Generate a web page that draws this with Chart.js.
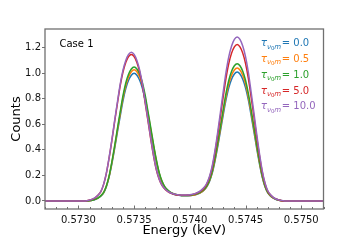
<!DOCTYPE html>
<html lang="en">
<head>
  <meta charset="UTF-8">
  <title>Case 1 – Counts vs Energy</title>
  <script src="https://cdn.jsdelivr.net/npm/chart.js"></script>
  <style>
    html, body {
      margin: 0;
      padding: 0;
      background: #fff;
    }
    #wrap {
      width: 360px;
      height: 240px;
    }
  </style>
</head>
<body>
  <div id="wrap"><canvas id="myChart" width="360" height="240"></canvas></div>

  <script>
    // energy grid (keV)
    const energy = [
      0.5727, 0.5729,
      0.573000, 0.573025, 0.573050, 0.573075, 0.573100, 0.573125, 0.573150, 0.573175,
      0.573200, 0.573225, 0.573250, 0.573275, 0.573300, 0.573325, 0.573350, 0.573375,
      0.573400, 0.573425, 0.573450, 0.573475, 0.573500, 0.573525, 0.573550, 0.573575,
      0.573600, 0.573625, 0.573650, 0.573675, 0.573700, 0.573725, 0.573750, 0.573775,
      0.573800, 0.573825, 0.573850, 0.573875, 0.573900, 0.573925, 0.573950, 0.573975,
      0.574000, 0.574025, 0.574050, 0.574075, 0.574100, 0.574125, 0.574150, 0.574175,
      0.574200, 0.574225, 0.574250, 0.574275, 0.574300, 0.574325, 0.574350, 0.574375,
      0.574400, 0.574425, 0.574450, 0.574475, 0.574500, 0.574525, 0.574550, 0.574575,
      0.574600, 0.574625, 0.574650, 0.574675, 0.574700, 0.574725, 0.574750, 0.574775,
      0.574800, 0.574825, 0.574850, 0.574875, 0.574900,
      0.5750, 0.5752
    ];

    // counts, one array per tau value
    const tau0 = [
      0, 0, 0, 0, 0, 0,
      0.002, 0.006, 0.012, 0.022, 0.038, 0.062, 0.11, 0.185,
      0.29, 0.41, 0.54, 0.665, 0.785, 0.88, 0.945, 0.985,
      1.0, 0.985, 0.945, 0.88, 0.785, 0.665, 0.544, 0.42,
      0.306, 0.212, 0.148, 0.107, 0.082, 0.066, 0.055, 0.048,
      0.044, 0.041, 0.04, 0.04, 0.041, 0.044, 0.048, 0.055,
      0.067, 0.083, 0.108, 0.149, 0.214, 0.309, 0.424, 0.549,
      0.675, 0.793, 0.889, 0.954, 0.995, 1.01, 0.995, 0.954,
      0.889, 0.793, 0.672, 0.545, 0.414, 0.293, 0.187, 0.111,
      0.063, 0.038, 0.022, 0.012, 0.006, 0.002, 0, 0,
      0, 0, 0
    ];
    const tau05 = [
      0, 0, 0, 0, 0, 0,
      0.002, 0.006, 0.012, 0.023, 0.039, 0.064, 0.113, 0.19,
      0.298, 0.421, 0.555, 0.683, 0.806, 0.904, 0.971, 1.012,
      1.027, 1.012, 0.971, 0.904, 0.806, 0.683, 0.559, 0.431,
      0.314, 0.218, 0.152, 0.11, 0.084, 0.067, 0.057, 0.05,
      0.046, 0.043, 0.042, 0.042, 0.042, 0.045, 0.049, 0.057,
      0.068, 0.085, 0.111, 0.154, 0.221, 0.319, 0.437, 0.567,
      0.696, 0.818, 0.917, 0.985, 1.026, 1.042, 1.026, 0.985,
      0.917, 0.818, 0.693, 0.563, 0.427, 0.302, 0.193, 0.115,
      0.065, 0.04, 0.023, 0.013, 0.006, 0.002, 0, 0,
      0, 0, 0
    ];
    const tau1 = [
      0, 0, 0, 0, 0, 0,
      0.002, 0.006, 0.013, 0.023, 0.04, 0.065, 0.116, 0.194,
      0.305, 0.431, 0.567, 0.698, 0.824, 0.924, 0.992, 1.034,
      1.05, 1.034, 0.992, 0.924, 0.824, 0.698, 0.571, 0.441,
      0.321, 0.223, 0.156, 0.113, 0.087, 0.07, 0.058, 0.051,
      0.046, 0.043, 0.042, 0.043, 0.044, 0.047, 0.052, 0.059,
      0.071, 0.088, 0.114, 0.159, 0.227, 0.329, 0.451, 0.585,
      0.718, 0.844, 0.946, 1.016, 1.059, 1.075, 1.059, 1.016,
      0.946, 0.844, 0.715, 0.581, 0.441, 0.312, 0.199, 0.118,
      0.067, 0.041, 0.024, 0.013, 0.006, 0.002, 0, 0,
      0, 0, 0
    ];
    const tau5 = [
      0, 0, 0, 0, 0,
      0.002, 0.007, 0.014, 0.025, 0.044, 0.071, 0.126, 0.212,
      0.333, 0.471, 0.62, 0.763, 0.901, 1.01, 1.085, 1.131,
      1.148, 1.131, 1.085, 1.01, 0.901, 0.763, 0.624, 0.481,
      0.35, 0.242, 0.17, 0.123, 0.094, 0.075, 0.062, 0.055,
      0.049, 0.046, 0.045, 0.045, 0.046, 0.046, 0.051, 0.057,
      0.066, 0.078, 0.098, 0.129, 0.18, 0.258, 0.374, 0.513,
      0.665, 0.817, 0.962, 1.078, 1.158, 1.207, 1.225, 1.207,
      1.158, 1.078, 0.962, 0.815, 0.662, 0.502, 0.355, 0.227,
      0.135, 0.076, 0.047, 0.027, 0.015, 0.007, 0.002, 0,
      0, 0, 0, 0
    ];
    const tau10 = [
      0, 0, 0, 0, 0,
      0.002, 0.007, 0.014, 0.026, 0.044, 0.072, 0.128, 0.216,
      0.338, 0.478, 0.629, 0.775, 0.915, 1.025, 1.101, 1.148,
      1.165, 1.148, 1.101, 1.025, 0.915, 0.775, 0.633, 0.488,
      0.356, 0.247, 0.172, 0.124, 0.096, 0.077, 0.064, 0.056,
      0.051, 0.047, 0.046, 0.046, 0.047, 0.048, 0.052, 0.059,
      0.068, 0.083, 0.103, 0.135, 0.188, 0.27, 0.392, 0.538,
      0.697, 0.857, 1.009, 1.131, 1.214, 1.266, 1.285, 1.266,
      1.214, 1.131, 1.009, 0.855, 0.694, 0.527, 0.373, 0.238,
      0.141, 0.08, 0.049, 0.028, 0.015, 0.008, 0.003, 0,
      0, 0, 0, 0
    ];

    const tauLabels = ['0.0', '0.5', '1.0', '5.0', '10.0'];
    const series = [tau0, tau05, tau1, tau5, tau10];
    const colors = ['#1f77b4', '#ff7f0e', '#2ca02c', '#d62728', '#9467bd'];

    const xTicks = [0.5730, 0.5735, 0.5740, 0.5745, 0.5750];
    const xMinorStep = 0.0001;
    const yTicks = [0.0, 0.2, 0.4, 0.6, 0.8, 1.0, 1.2];

    const FONT = '"DejaVu Sans", sans-serif';
    const AXIS = '#707070';

    Chart.defaults.font.family = FONT;

    // matplotlib-like frame, inward x ticks, text legend and the "Case 1" note
    const extras = {
      id: 'extras',
      afterDraw(chart) {
        const { ctx, chartArea: a, scales: { x } } = chart;
        ctx.save();

        ctx.strokeStyle = AXIS;
        ctx.lineWidth = 1;
        // minor + major ticks on the bottom spine, pointing inside
        const first = Math.ceil(x.min / xMinorStep - 1e-6);
        const last = Math.floor(x.max / xMinorStep + 1e-6);
        for (let k = first; k <= last; k++) {
          const v = k * xMinorStep;
          const px = Math.round(x.getPixelForValue(v)) + 0.5;
          const major = xTicks.some(t => Math.abs(t - v) < 1e-7);
          const len = major ? 3.5 : 2;
          ctx.beginPath();
          ctx.moveTo(px, a.bottom);
          ctx.lineTo(px, a.bottom - len);
          ctx.stroke();
        }

        ctx.lineWidth = 1.3;
        ctx.strokeRect(a.left, a.top, a.right - a.left, a.bottom - a.top);

        ctx.fillStyle = '#000';
        ctx.font = '10px ' + FONT;
        ctx.textBaseline = 'alphabetic';
        ctx.textAlign = 'left';
        ctx.fillText('Case 1', 59.5, 46.7);

        chart.data.datasets.forEach((d, i) => {
          const base = 46 + i * 15.85;
          let cx = 260.7;
          ctx.fillStyle = d.borderColor;
          ctx.font = 'italic 10.5px ' + FONT;
          ctx.fillText('τ', cx, base);
          cx += ctx.measureText('τ').width;
          ctx.font = 'italic 7px ' + FONT;
          ctx.fillText('ν', cx, base + 2.5);
          cx += ctx.measureText('ν').width;
          ctx.font = '5.4px ' + FONT;
          ctx.fillText('0', cx, base + 3.5);
          cx += ctx.measureText('0').width;
          ctx.font = 'italic 7px ' + FONT;
          ctx.fillText('m', cx, base + 2.5);
          ctx.font = '10px ' + FONT;
          ctx.fillText('=', 281.8, base);
          ctx.fillText(tauLabels[i], 293.3, base);
        });

        ctx.restore();
      }
    };

    const ctx = document.getElementById('myChart').getContext('2d');

    const chart = new Chart(ctx, {
      type: 'line',
      data: {
        datasets: series.map((s, i) => ({
          label: 'τ = ' + tauLabels[i],
          data: energy.map((e, j) => ({ x: e, y: s[j] })),
          borderColor: colors[i],
          backgroundColor: colors[i],
          borderWidth: 1.5,
          pointRadius: 0,
          fill: false,
          tension: 0.3,
          order: series.length - 1 - i
        }))
      },
      options: {
        responsive: false,
        animation: false,
        devicePixelRatio: 1,
        layout: {
          padding: { top: 29, right: 36.5, left: 0, bottom: 0 }
        },
        plugins: {
          legend: { display: false },
          tooltip: { enabled: false }
        },
        scales: {
          x: {
            type: 'linear',
            min: 0.5727,
            max: 0.5752,
            afterFit: s => { s.height = 31; },
            afterBuildTicks: s => { s.ticks = xTicks.map(v => ({ value: v })); },
            ticks: {
              callback: v => v.toFixed(4),
              color: '#111',
              font: { size: 10 },
              padding: 5.5,
              maxRotation: 0,
              autoSkip: false
            },
            grid: { display: false, drawOnChartArea: false, drawTicks: false },
            border: { display: false },
            title: {
              display: true,
              text: 'Energy (keV)',
              color: '#000',
              font: { size: 13 },
              padding: { top: 0, bottom: 2 }
            }
          },
          y: {
            min: -0.063,
            max: 1.347,
            afterFit: s => { s.width = 45; },
            afterBuildTicks: s => { s.ticks = yTicks.map(v => ({ value: v })); },
            ticks: {
              callback: v => v.toFixed(1),
              color: '#111',
              font: { size: 10 },
              padding: 1
            },
            grid: {
              drawOnChartArea: false,
              drawTicks: true,
              tickLength: 3,
              tickColor: AXIS,
              tickWidth: 1
            },
            border: { display: false },
            title: {
              display: true,
              text: 'Counts',
              color: '#000',
              font: { size: 13 },
              padding: { top: 9, bottom: 0 }
            }
          }
        }
      },
      plugins: [extras]
    });
  </script>
</body>
</html>
